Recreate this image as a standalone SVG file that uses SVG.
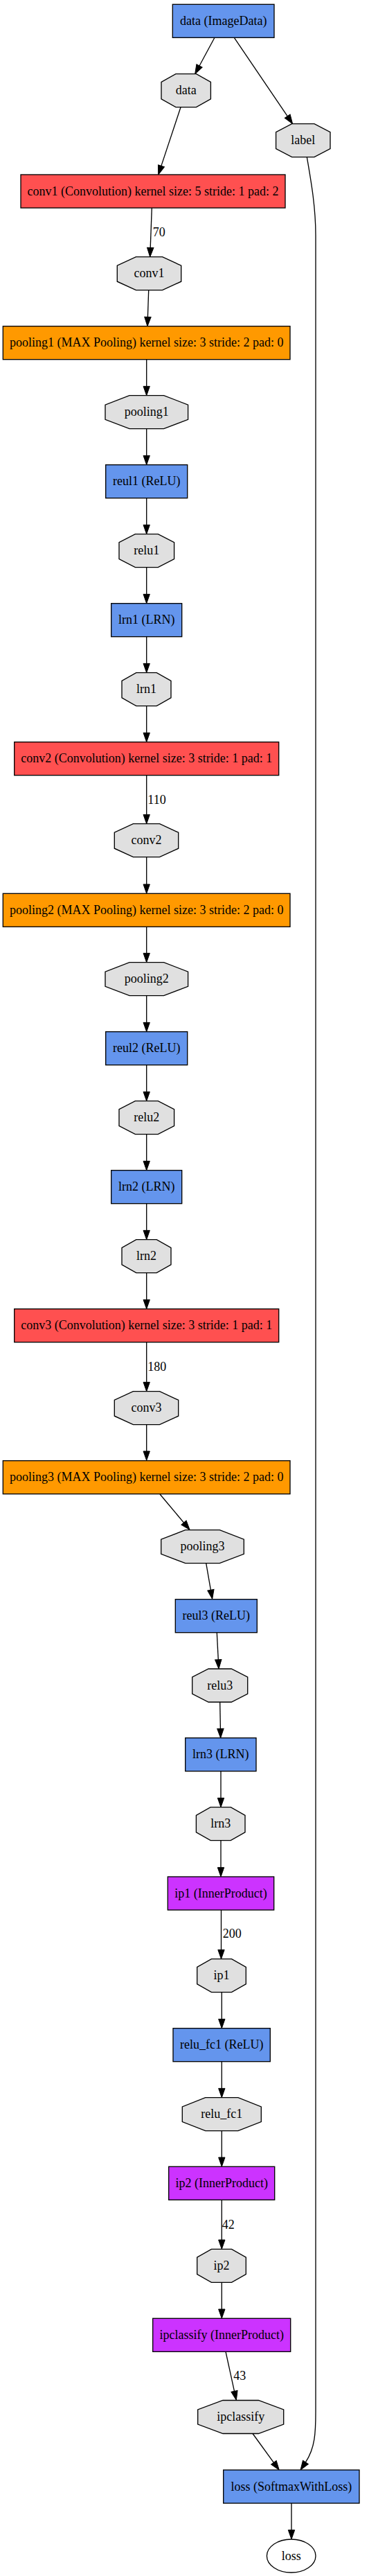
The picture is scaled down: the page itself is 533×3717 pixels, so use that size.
<svg xmlns="http://www.w3.org/2000/svg" width="533" height="3717" viewBox="0 0 533 3717">
<style>
text{font-family:"Liberation Serif","Times New Roman",serif;font-size:18px;fill:#000}
.n text{text-anchor:middle}
.b{stroke:#000;stroke-width:1.33}
.blue{fill:#6495ED}.red{fill:#FF5050}.org{fill:#FF9900}.pur{fill:#CC33FF}.blob{fill:#E0E0E0}
#edges path{fill:none;stroke:#000;stroke-width:1.33;marker-end:url(#ah)}
</style>
<defs>
<marker id="ah" markerUnits="userSpaceOnUse" markerWidth="14" markerHeight="10" refX="0" refY="4.67" orient="auto" overflow="visible">
<path d="M0,0 L13.3,4.67 L0,9.33 z" fill="#000" stroke="#000" stroke-width="1"/>
</marker>
</defs>
<rect width="533" height="3717" fill="#fff"/>
<g id="edges">
<path d="M310,54.3 L288,95"/>
<path d="M338.3,54.3 L415.2,167.7"/>
<path d="M261,154.7 L232.9,239.4"/>
<path d="M219.3,300 L217.2,357.4"/>
<path d="M214.7,418.7 L213.4,457.4"/>
<path d="M211.7,518.7 V557.4"/>
<path d="M211.7,618.7 V657.4"/>
<path d="M211.7,718.7 V757.4"/>
<path d="M211.7,818.7 V857.4"/>
<path d="M211.7,918.7 V957.4"/>
<path d="M211.7,1018.7 V1057.4"/>
<path d="M211.7,1118.7 V1175.4"/>
<path d="M211.7,1236.7 V1276"/>
<path d="M211.7,1337.3 V1375.4"/>
<path d="M211.7,1436.7 V1475.4"/>
<path d="M211.7,1536.7 V1575.4"/>
<path d="M211.7,1636.7 V1675.4"/>
<path d="M211.7,1736.7 V1775.4"/>
<path d="M211.7,1836.7 V1875.4"/>
<path d="M211.7,1936.7 V1994.4"/>
<path d="M211.7,2055.7 V2094"/>
<path d="M231,2156 L265.5,2197.1"/>
<path d="M297.7,2255.7 L304.4,2294.2"/>
<path d="M313.3,2356 L315.3,2394.7"/>
<path d="M317.7,2456 L318.4,2494.4"/>
<path d="M319,2556 V2594.4"/>
<path d="M319,2655.7 V2694.7"/>
<path d="M319.5,2756 V2813.4"/>
<path d="M320.3,2874.7 V2913.4"/>
<path d="M320.3,2974.7 V3013.4"/>
<path d="M320.3,3074.7 V3113"/>
<path d="M320.3,3174.3 V3232"/>
<path d="M320.3,3293.3 V3332"/>
<path d="M326,3393.3 L338.5,3450.3"/>
<path d="M365,3511.5 L395.4,3553.3"/>
<path d="M443.3,226.7 C450,265 456,300 456,340 L456,3480 C456,3510 455.2,3532.1 441.4,3552.9"/>
<path d="M421,3612 V3650.7"/>
<text x="220.7" y="341">70</text>
<text x="213.3" y="1160">110</text>
<text x="213.3" y="1978">180</text>
<text x="321.7" y="2796">200</text>
<text x="320.7" y="3216">42</text>
<text x="337.3" y="3434">43</text>
</g>
<g id="n_data_layer" class="n"><rect class="b blue" x="249.3" y="6.3" width="146.7" height="48"/><text x="322.7" y="35.8">data (ImageData)</text></g>
<g id="n_data_blob" class="n"><polygon class="b blob" points="253.9,106.7 283.5,106.7 304.4,118.5 304.4,142.9 283.5,154.7 253.9,154.7 233,142.9 233,118.5"/><text x="268.7" y="136.2">data</text></g>
<g id="n_label_blob" class="n"><polygon class="b blob" points="421.6,178.7 454,178.7 477,190.7 477,214.7 454,226.7 421.6,226.7 398.6,214.7 398.6,190.7"/><text x="437.8" y="208.2">label</text></g>
<g id="n_conv1_layer" class="n"><rect class="b red" x="30" y="252" width="382" height="48"/><text x="221" y="281.5">conv1 (Convolution) kernel size: 5 stride: 1 pad: 2</text></g>
<g id="n_conv1_blob" class="n"><polygon class="b blob" points="196.4,370.7 234.6,370.7 261.7,383.2 261.7,406.2 234.6,418.7 196.4,418.7 169.3,406.2 169.3,383.2"/><text x="215.5" y="400.2">conv1</text></g>
<g id="n_pooling1_layer" class="n"><rect class="b org" x="4.3" y="470.7" width="414.7" height="48"/><text x="211.7" y="500.2">pooling1 (MAX Pooling) kernel size: 3 stride: 2 pad: 0</text></g>
<g id="n_pooling1_blob" class="n"><polygon class="b blob" points="187,570.7 236.6,570.7 271.6,584.1 271.6,605.3 236.6,618.7 187,618.7 152,605.3 152,584.1"/><text x="211.8" y="600.2">pooling1</text></g>
<g id="n_reul1_layer" class="n"><rect class="b blue" x="152.7" y="670.7" width="118" height="48"/><text x="211.7" y="700.2">reul1 (ReLU)</text></g>
<g id="n_relu1_blob" class="n"><polygon class="b blob" points="195.3,770.7 228.3,770.7 251.6,782.7 251.6,806.7 228.3,818.7 195.3,818.7 172,806.7 172,782.7"/><text x="211.8" y="800.2">relu1</text></g>
<g id="n_lrn1_layer" class="n"><rect class="b blue" x="160.7" y="870.7" width="102" height="48"/><text x="211.7" y="900.2">lrn1 (LRN)</text></g>
<g id="n_lrn1_blob" class="n"><polygon class="b blob" points="196.8,970.7 226.2,970.7 247,982.5 247,1006.9 226.2,1018.7 196.8,1018.7 176,1006.9 176,982.5"/><text x="211.5" y="1000.2">lrn1</text></g>
<g id="n_conv2_layer" class="n"><rect class="b red" x="20.7" y="1070.7" width="382" height="48"/><text x="211.7" y="1100.2">conv2 (Convolution) kernel size: 3 stride: 1 pad: 1</text></g>
<g id="n_conv2_blob" class="n"><polygon class="b blob" points="192.4,1188.7 230.6,1188.7 257.7,1201.2 257.7,1224.2 230.6,1236.7 192.4,1236.7 165.3,1224.2 165.3,1201.2"/><text x="211.5" y="1218.2">conv2</text></g>
<g id="n_pooling2_layer" class="n"><rect class="b org" x="4.3" y="1289.3" width="414.7" height="48"/><text x="211.7" y="1318.8">pooling2 (MAX Pooling) kernel size: 3 stride: 2 pad: 0</text></g>
<g id="n_pooling2_blob" class="n"><polygon class="b blob" points="187,1388.7 236.6,1388.7 271.6,1402.1 271.6,1423.3 236.6,1436.7 187,1436.7 152,1423.3 152,1402.1"/><text x="211.8" y="1418.2">pooling2</text></g>
<g id="n_reul2_layer" class="n"><rect class="b blue" x="152.7" y="1488.7" width="118" height="48"/><text x="211.7" y="1518.2">reul2 (ReLU)</text></g>
<g id="n_relu2_blob" class="n"><polygon class="b blob" points="195.3,1588.7 228.3,1588.7 251.6,1600.7 251.6,1624.7 228.3,1636.7 195.3,1636.7 172,1624.7 172,1600.7"/><text x="211.8" y="1618.2">relu2</text></g>
<g id="n_lrn2_layer" class="n"><rect class="b blue" x="160.7" y="1688.7" width="102" height="48"/><text x="211.7" y="1718.2">lrn2 (LRN)</text></g>
<g id="n_lrn2_blob" class="n"><polygon class="b blob" points="196.8,1788.7 226.2,1788.7 247,1800.5 247,1824.9 226.2,1836.7 196.8,1836.7 176,1824.9 176,1800.5"/><text x="211.5" y="1818.2">lrn2</text></g>
<g id="n_conv3_layer" class="n"><rect class="b red" x="20.7" y="1888.7" width="382" height="48"/><text x="211.7" y="1918.2">conv3 (Convolution) kernel size: 3 stride: 1 pad: 1</text></g>
<g id="n_conv3_blob" class="n"><polygon class="b blob" points="192.4,2007.7 230.6,2007.7 257.7,2020.2 257.7,2043.2 230.6,2055.7 192.4,2055.7 165.3,2043.2 165.3,2020.2"/><text x="211.5" y="2037.2">conv3</text></g>
<g id="n_pooling3_layer" class="n"><rect class="b org" x="4.3" y="2107.7" width="414.7" height="48"/><text x="211.7" y="2137.2">pooling3 (MAX Pooling) kernel size: 3 stride: 2 pad: 0</text></g>
<g id="n_pooling3_blob" class="n"><polygon class="b blob" points="267.7,2207.7 317.3,2207.7 352.3,2221.1 352.3,2242.3 317.3,2255.7 267.7,2255.7 232.7,2242.3 232.7,2221.1"/><text x="292.5" y="2237.2">pooling3</text></g>
<g id="n_reul3_layer" class="n"><rect class="b blue" x="253.3" y="2307.7" width="118" height="48"/><text x="312.3" y="2337.2">reul3 (ReLU)</text></g>
<g id="n_relu3_blob" class="n"><polygon class="b blob" points="301.1,2408 334.3,2408 357.7,2420 357.7,2444 334.3,2456 301.1,2456 277.7,2444 277.7,2420"/><text x="317.7" y="2437.5">relu3</text></g>
<g id="n_lrn3_layer" class="n"><rect class="b blue" x="267.7" y="2507.7" width="102.3" height="48"/><text x="318.8" y="2537.2">lrn3 (LRN)</text></g>
<g id="n_lrn3_blob" class="n"><polygon class="b blob" points="304.1,2607.7 333.3,2607.7 354,2619.5 354,2643.9 333.3,2655.7 304.1,2655.7 283.4,2643.9 283.4,2619.5"/><text x="318.7" y="2637.2">lrn3</text></g>
<g id="n_ip1_layer" class="n"><rect class="b pur" x="242.3" y="2708" width="153.4" height="48"/><text x="319" y="2737.5">ip1 (InnerProduct)</text></g>
<g id="n_ip1_blob" class="n"><polygon class="b blob" points="305.4,2826.7 334.6,2826.7 355.3,2838.5 355.3,2862.9 334.6,2874.7 305.4,2874.7 284.7,2862.9 284.7,2838.5"/><text x="320" y="2856.2">ip1</text></g>
<g id="n_relu_fc1_layer" class="n"><rect class="b blue" x="250" y="2926.7" width="140.3" height="48"/><text x="320.2" y="2956.2">relu_fc1 (ReLU)</text></g>
<g id="n_relu_fc1_blob" class="n"><polygon class="b blob" points="296.7,3026.7 343.9,3026.7 377.3,3039.9 377.3,3061.5 343.9,3074.7 296.7,3074.7 263.3,3061.5 263.3,3039.9"/><text x="320.3" y="3056.2">relu_fc1</text></g>
<g id="n_ip2_layer" class="n"><rect class="b pur" x="243.7" y="3126.3" width="153" height="48"/><text x="320.2" y="3155.8">ip2 (InnerProduct)</text></g>
<g id="n_ip2_blob" class="n"><polygon class="b blob" points="305.4,3245.3 334.6,3245.3 355.3,3257.1 355.3,3281.5 334.6,3293.3 305.4,3293.3 284.7,3281.5 284.7,3257.1"/><text x="320" y="3274.8">ip2</text></g>
<g id="n_ipclassify_layer" class="n"><rect class="b pur" x="220.7" y="3345.3" width="199" height="48"/><text x="320.2" y="3374.8">ipclassify (InnerProduct)</text></g>
<g id="n_ipclassify_blob" class="n"><polygon class="b blob" points="322,3463.5 373.4,3463.5 409.7,3477 409.7,3498 373.4,3511.5 322,3511.5 285.7,3498 285.7,3477"/><text x="347.7" y="3493">ipclassify</text></g>
<g id="n_loss_layer" class="n"><rect class="b blue" x="322.7" y="3564" width="196.3" height="48"/><text x="420.8" y="3593.5">loss (SoftmaxWithLoss)</text></g>
<g id="n_loss_out" class="n"><ellipse class="b" fill="#fff" cx="420.7" cy="3688" rx="35.3" ry="24"/><text x="420.7" y="3693.5">loss</text></g>
</svg>
